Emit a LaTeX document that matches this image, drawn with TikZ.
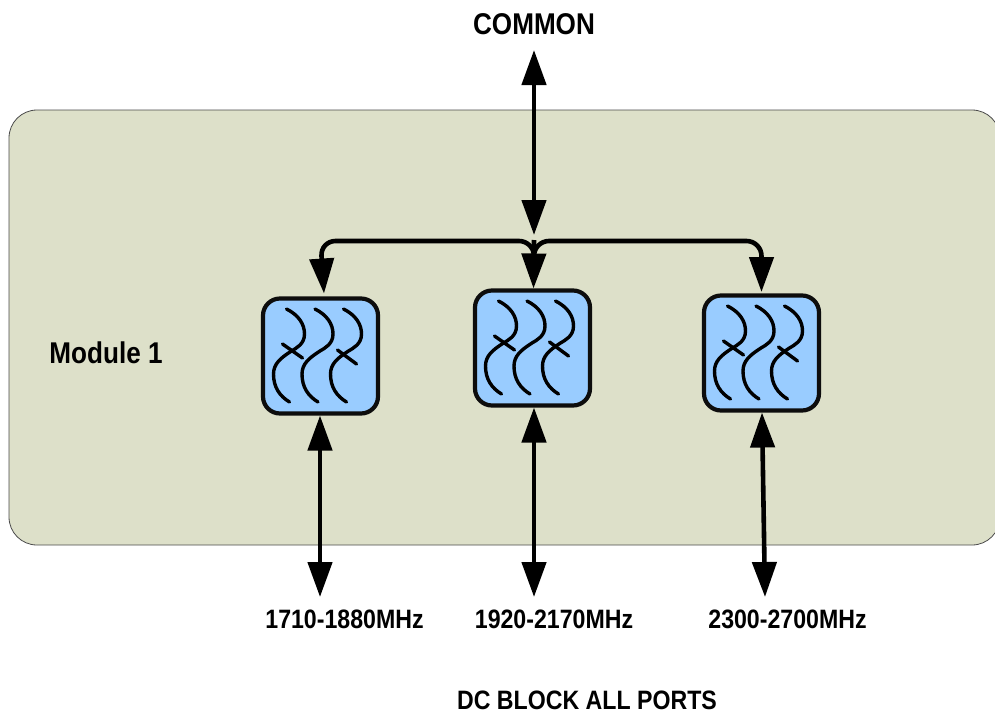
\documentclass[tikz,border=0pt]{standalone}
\usepackage{fontspec}
\setmainfont[FakeStretch=0.87]{Liberation Sans}
\usepackage{tikz}
\usetikzlibrary{arrows.meta}

\definecolor{modulegreen}{HTML}{DDE0C9}
\definecolor{filterblue}{HTML}{99CCFF}

\begin{document}
\begin{tikzpicture}[
        x=1pt, y=-1pt,
        module/.style={
            % The shape:
            rectangle,
            rounded corners=28pt,
            % The size:
            minimum width=991pt,
            minimum height=435pt,
            % The border
            line width=.8pt,
            draw=black!70,
            % The filling
            fill=modulegreen
        },
        filter/.style={
            % The shape:
            rectangle,
            rounded corners=17pt,
            % The size:
            minimum size=115pt,
            outer sep=0pt,
            % The border
            line width=4.2pt,
            draw=black!95,
            % The filling
            fill=filterblue
        },
        wave/.style={line width=3.4pt, line cap=round},
        port/.style={line width=4.6pt, {Triangle[length=35pt,width=24pt]}-{Triangle[length=35pt,width=24pt]}},
        feed/.style={line width=4.6pt, rounded corners=15pt, -{Triangle[length=35pt,width=24pt]}},
        caption/.style={font=\bfseries\fontsize{26.6}{28}\selectfont},
        title/.style={font=\bfseries\fontsize{30}{32}\selectfont}
    ]

        \clip (0,0) rectangle (995,713);
        \fill[white] (0,0) rectangle (995,713);

        \node [module] (module) at (504.5,327.5) {};
        \node [title] (modname) at (106,353) {Module 1};

        \foreach \name/\x/\y/\freq/\lx/\px/\off in {fone/320.5/356/1710-1880MHz/344.5/320/-0.5, ftwo/532.5/348/1920-2170MHz/554/534/1.5, fthree/761.5/353/2300-2700MHz/787.5/765/0.5}
        {
            \node [filter] (\name) at (\x,\y) {};
            \node [caption] (\name label) at (\lx,619) {\freq};
            \coordinate (\name port) at (\px,597);

            % three resonators, the outer two with a coupling stroke
            \begin{scope}[shift={(\name.center)}]
                \foreach \dx in {0,28.5,57}
                    \draw [wave] (\dx-34,-47) .. controls (\dx-22,-41) and (\dx-16,-32) .. (\dx-16,-22)
                        .. controls (\dx-16,-12) and (\dx-24,-8) .. (\dx-29,-5)
                        .. controls (\dx-40,2) and (\dx-47,8) .. (\dx-47,18)
                        .. controls (\dx-47,31) and (\dx-41,40) .. (\dx-31,46);
                \draw [wave] (-38,-12) -- (-18,2);
                \draw [wave] (17,-6) -- (36,8);
            \end{scope}

            \draw [port] ([xshift=\off pt,yshift=-2pt]\name.south) -- (\name port);
        }

        \node [title] (common) at (534,24) {COMMON};
        \node [caption] (dcblock) at (587,700) {DC BLOCK ALL PORTS};

        \coordinate (commonport) at (534,50);
        \coordinate (busin) at (534,235);
        \coordinate (busjoin) at (534,241);
        \coordinate (busdown) at (534,258);

        \draw [port] (commonport) -- (busin);
        \draw [feed] (busdown) -- (busjoin) -- (busjoin -| fone.north) -- ([xshift=3.5pt,yshift=5pt]fone.north);
        \draw [feed] (busdown) -- (busjoin) -- (busjoin -| fthree.north) -- ([yshift=3.5pt]fthree.north);
        \draw [feed, shorten <=-1pt] (busjoin) -- ([xshift=1pt,yshift=2pt]ftwo.north);

    \end{tikzpicture}
\end{document}
